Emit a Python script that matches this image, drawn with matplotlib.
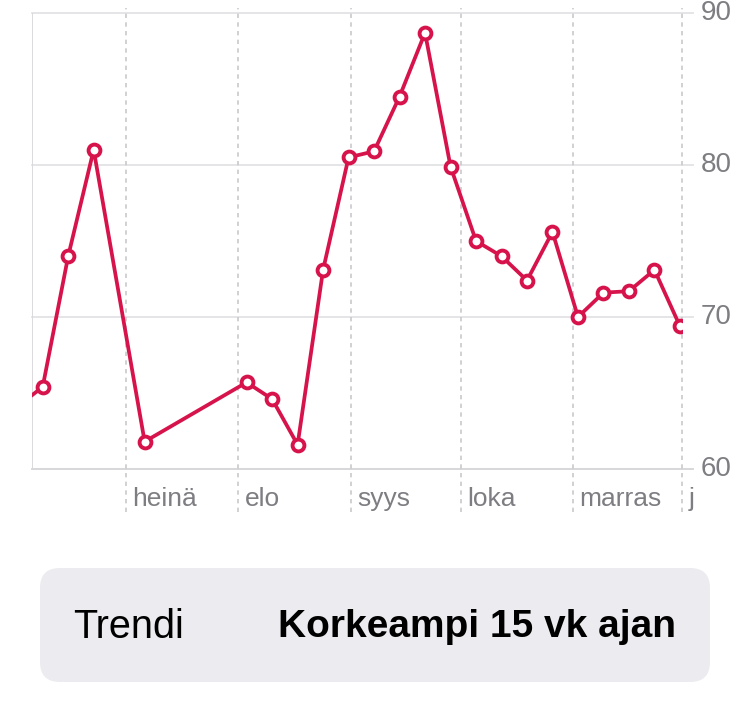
#!/usr/bin/env python3
"""
Weekly trend line chart (Finnish labels) with a summary pill underneath.
"""

import matplotlib.pyplot as plt
from matplotlib.patches import FancyBboxPatch

# Data: week index and value
WEEKS = [0, 1, 2, 3, 5, 9, 10, 11, 12, 13, 14, 15, 16, 17, 18, 19, 20, 21, 22, 23, 24, 25, 26]
VALUES = [64.1, 65.4, 74.0, 81.0, 61.8, 65.7, 64.6, 61.6, 73.1, 80.5, 80.9, 84.5, 88.7,
          79.9, 75.0, 74.0, 72.4, 75.6, 70.0, 71.6, 71.7, 73.1, 69.4]

# Month boundaries (in weeks) and their labels
MONTH_STARTS = [4.27, 8.66, 13.09, 17.41, 21.80, 26.08]
MONTH_LABELS = ['heinä', 'elo', 'syys', 'loka', 'marras', 'j']

Y_TICKS = [60, 70, 80, 90]

TREND_LABEL = 'Trendi'
TREND_VALUE = 'Korkeampi 15 vk ajan'

# Style
W, H = 730, 705
LINE_COLOR = '#d7134b'
GRID_COLOR = '#e3e3e6'
DASH_COLOR = '#c9c9cc'
LABEL_COLOR = '#7d7d82'
BOX_COLOR = '#ebebf0'
FONT = ['Liberation Sans', 'DejaVu Sans']


def main():
    plt.rcParams['font.family'] = FONT
    fig = plt.figure(figsize=(W / 100, H / 100), dpi=100)

    # plot area in pixels: x 32..682, y 13..469
    left, right, top, bottom = 32, 682, 13, 469
    ax = fig.add_axes([left / W, 1 - bottom / H, (right - left) / W, (bottom - top) / H])
    px_per_week = 25.49
    w0 = 17.2
    ax.set_xlim((left - w0) / px_per_week, (right - w0) / px_per_week)
    ax.set_ylim(60, 90)
    ax.axis('off')

    # horizontal gridlines, running a bit past the plot on the right
    for y in Y_TICKS:
        color = '#d4d4d7' if y == 60 else GRID_COLOR
        ax.axhline(y, xmin=0, xmax=(693 - left) / (right - left), color=color,
                   lw=1.3, clip_on=False, zorder=1)
        ax.text(1 + (701 - right) / (right - left), y, str(y), transform=ax.get_yaxis_transform(),
                ha='left', va='center', fontsize=20, color=LABEL_COLOR, clip_on=False)

    # left solid edge
    ax.axvline(ax.get_xlim()[0], color='#d8d8db', lw=1.3, zorder=1)

    # month dashed lines + labels
    ymin = (bottom - 512) / (bottom - top)
    ymax = (bottom - 8) / (bottom - top)
    for m, lab in zip(MONTH_STARTS, MONTH_LABELS):
        ax.axvline(m, ymin=ymin, ymax=ymax, color=DASH_COLOR, lw=1.2,
                   dashes=(2.6, 2.6), clip_on=False, zorder=1)
        ax.text(m + 6.5 / px_per_week, 60 - 37 / 15.22, lab, ha='left', va='baseline',
                fontsize=19, color=LABEL_COLOR, clip_on=False)

    # the series
    ax.plot(WEEKS, VALUES, color=LINE_COLOR, lw=2.7, marker='o', ms=8.5,
            mfc='white', mec=LINE_COLOR, mew=2.8, zorder=3, clip_on=True)

    # summary pill, drawn in pixel coordinates
    bg = fig.add_axes([0, 0, 1, 1], zorder=-1)
    bg.set_xlim(0, W)
    bg.set_ylim(H, 0)
    bg.axis('off')
    box = FancyBboxPatch((40, 568), 670, 114, boxstyle='round,pad=0,rounding_size=20',
                         facecolor=BOX_COLOR, edgecolor='none')
    bg.add_patch(box)
    bg.text(73, 627, TREND_LABEL, ha='left', va='center', fontsize=28.5, color='black')
    bg.text(676, 627, TREND_VALUE, ha='right', va='center', fontsize=28,
            fontweight='bold', color='black')

    fig.savefig('out.png', dpi=100)
    plt.close(fig)


if __name__ == '__main__':
    main()
